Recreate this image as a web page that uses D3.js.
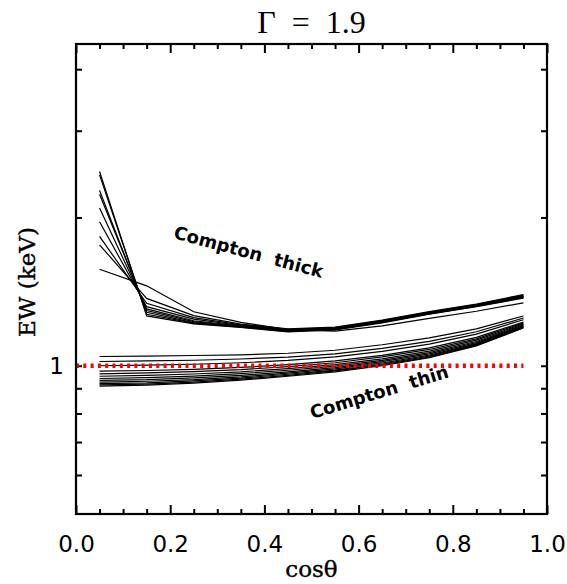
<!DOCTYPE html>
<html>
<head>
<meta charset="utf-8">
<script src="https://cdn.jsdelivr.net/npm/d3@7"></script>
<style>
  body { margin: 0; background: #fff; }
  svg { display: block; }
</style>
</head>
<body>
<svg id="chart" width="567" height="584"></svg>
<script>
// cos(theta) bins
var cosTheta = [0.05, 0.15, 0.25, 0.35, 0.45, 0.55, 0.65, 0.75, 0.85, 0.95];

// Compton thick curves (EW in keV)
var thickEW = [
  [2.48, 1.262, 1.216, 1.196, 1.172, 1.182, 1.222, 1.272, 1.318, 1.372],
  [2.44, 1.272, 1.220, 1.198, 1.174, 1.184, 1.224, 1.274, 1.320, 1.375],
  [2.27, 1.284, 1.223, 1.200, 1.176, 1.186, 1.226, 1.276, 1.322, 1.378],
  [2.23, 1.294, 1.229, 1.202, 1.178, 1.188, 1.228, 1.278, 1.324, 1.381],
  [2.09, 1.304, 1.234, 1.204, 1.180, 1.190, 1.230, 1.280, 1.326, 1.384],
  [1.96, 1.318, 1.243, 1.207, 1.182, 1.192, 1.232, 1.282, 1.328, 1.387],
  [1.83, 1.339, 1.252, 1.210, 1.185, 1.195, 1.235, 1.285, 1.331, 1.391],
  [1.76, 1.370, 1.264, 1.215, 1.188, 1.198, 1.238, 1.288, 1.334, 1.395],
  [1.57, 1.453, 1.287, 1.225, 1.184, 1.176, 1.205, 1.248, 1.290, 1.342]
];

// Compton thin curves (EW in keV)
var thinEW = [
  [1.044, 1.046, 1.049, 1.052, 1.060, 1.075, 1.103, 1.139, 1.188, 1.262],
  [1.020, 1.023, 1.026, 1.032, 1.041, 1.057, 1.085, 1.121, 1.172, 1.250],
  [1.000, 1.003, 1.007, 1.014, 1.025, 1.042, 1.069, 1.106, 1.159, 1.240],
  [0.975, 0.978, 0.983, 0.992, 1.005, 1.023, 1.050, 1.087, 1.142, 1.227],
  [0.963, 0.967, 0.973, 0.982, 0.996, 1.014, 1.042, 1.079, 1.134, 1.222],
  [0.952, 0.956, 0.962, 0.972, 0.987, 1.005, 1.033, 1.071, 1.127, 1.216],
  [0.942, 0.946, 0.953, 0.964, 0.979, 0.998, 1.025, 1.063, 1.120, 1.211],
  [0.934, 0.937, 0.945, 0.956, 0.972, 0.991, 1.019, 1.057, 1.114, 1.206],
  [0.926, 0.930, 0.937, 0.949, 0.966, 0.985, 1.013, 1.051, 1.109, 1.202],
  [0.920, 0.923, 0.932, 0.944, 0.961, 0.980, 1.008, 1.046, 1.105, 1.199],
  [0.914, 0.918, 0.926, 0.939, 0.956, 0.976, 1.004, 1.041, 1.101, 1.196],
  [0.909, 0.913, 0.922, 0.935, 0.952, 0.972, 1.000, 1.038, 1.097, 1.193]
];

// reference level and its x extent
var refEW = 1;
var refX = [0, 0.95];

// ticks
var xMajor = [0, 0.2, 0.4, 0.6, 0.8, 1.0];
var xMinor = [0.05, 0.1, 0.15, 0.25, 0.3, 0.35, 0.45, 0.5, 0.55, 0.65, 0.7, 0.75, 0.85, 0.9, 0.95];
var yTicks = [0.6, 0.7, 0.8, 0.9, 1, 2, 3, 4];
var yLabels = [1];

var margin = {left: 76, right: 547, top: 44, bottom: 514};

var svg = d3.select("#chart");

var xs = d3.scaleLinear().domain([0, 1]).range([margin.left, margin.right]);
var ys = d3.scaleLog().domain([0.5, 4.5]).range([margin.bottom, margin.top]);

// axes (ticks point inward, on all four sides)
function noDomain(g) { g.select(".domain").remove(); }

svg.append("g").attr("transform", "translate(0," + margin.bottom + ")")
  .call(d3.axisBottom(xs).tickValues(xMinor).tickSize(-5).tickFormat(""))
  .call(noDomain);
svg.append("g").attr("transform", "translate(0," + margin.bottom + ")")
  .call(d3.axisBottom(xs).tickValues(xMajor).tickSize(-9).tickPadding(22).tickFormat(d3.format(".1f")))
  .call(noDomain)
  .selectAll("text").attr("font-family", "DejaVu Sans").attr("font-size", "23px").attr("fill", "#000");
svg.append("g").attr("transform", "translate(0," + margin.top + ")")
  .call(d3.axisTop(xs).tickValues(xMinor).tickSize(-5).tickFormat(""))
  .call(noDomain);
svg.append("g").attr("transform", "translate(0," + margin.top + ")")
  .call(d3.axisTop(xs).tickValues(xMajor).tickSize(-9).tickFormat(""))
  .call(noDomain);

svg.append("g").attr("transform", "translate(" + margin.left + ",0)")
  .call(d3.axisLeft(ys).tickValues(yTicks).tickSize(-6).tickPadding(12)
    .tickFormat(function(d) { return yLabels.indexOf(d) >= 0 ? d : ""; }))
  .call(noDomain)
  .selectAll("text").attr("font-family", "DejaVu Sans").attr("font-size", "23px").attr("fill", "#000");
svg.append("g").attr("transform", "translate(" + margin.right + ",0)")
  .call(d3.axisRight(ys).tickValues(yTicks).tickSize(-6).tickFormat(""))
  .call(noDomain);

svg.selectAll(".tick line").attr("stroke", "#000").attr("stroke-width", 2);

// curves
var line = d3.line()
  .x(function(d, i) { return xs(cosTheta[i]); })
  .y(function(d) { return ys(d); });

svg.append("g").selectAll("path")
  .data(thickEW.concat(thinEW))
  .enter().append("path")
  .attr("d", line)
  .attr("fill", "none")
  .attr("stroke", "#000")
  .attr("stroke-width", 1.2);

// red dotted line at EW = 1
svg.append("line")
  .attr("x1", xs(refX[0])).attr("x2", xs(refX[1]))
  .attr("y1", ys(refEW)).attr("y2", ys(refEW))
  .attr("stroke", "#ff0000")
  .attr("stroke-width", 4.5)
  .attr("stroke-dasharray", "3,4.3");

// frame
svg.append("rect")
  .attr("x", margin.left).attr("y", margin.top)
  .attr("width", margin.right - margin.left).attr("height", margin.bottom - margin.top)
  .attr("fill", "none").attr("stroke", "#000").attr("stroke-width", 2.2);

// title
svg.append("text")
  .attr("x", (margin.left + margin.right) / 2).attr("y", 33)
  .attr("text-anchor", "middle")
  .attr("font-family", "Liberation Serif").attr("font-size", "32px")
  .attr("xml:space", "preserve")
  .text("\u0393  =  1.9");

// axis titles
svg.append("text")
  .attr("x", (margin.left + margin.right) / 2).attr("y", 577)
  .attr("text-anchor", "middle")
  .attr("font-family", "DejaVu Serif").attr("font-size", "23px")
  .attr("stroke", "#000").attr("stroke-width", 0.4)
  .text("cos\u03b8");

svg.append("text")
  .attr("transform", "translate(35,282) rotate(-90)")
  .attr("text-anchor", "middle")
  .attr("font-family", "DejaVu Serif").attr("font-size", "23px")
  .attr("stroke", "#000").attr("stroke-width", 0.4)
  .attr("xml:space", "preserve")
  .text("EW (keV)");

// annotations
svg.append("text")
  .attr("transform", "translate(247,258) rotate(15)")
  .attr("text-anchor", "middle")
  .attr("font-family", "DejaVu Sans").attr("font-weight", "bold").attr("font-size", "18px")
  .attr("xml:space", "preserve")
  .text("Compton  thick");

svg.append("text")
  .attr("transform", "translate(381,398) rotate(-17)")
  .attr("text-anchor", "middle")
  .attr("font-family", "DejaVu Sans").attr("font-weight", "bold").attr("font-size", "18px")
  .attr("xml:space", "preserve")
  .text("Compton  thin");
</script>
</body>
</html>
